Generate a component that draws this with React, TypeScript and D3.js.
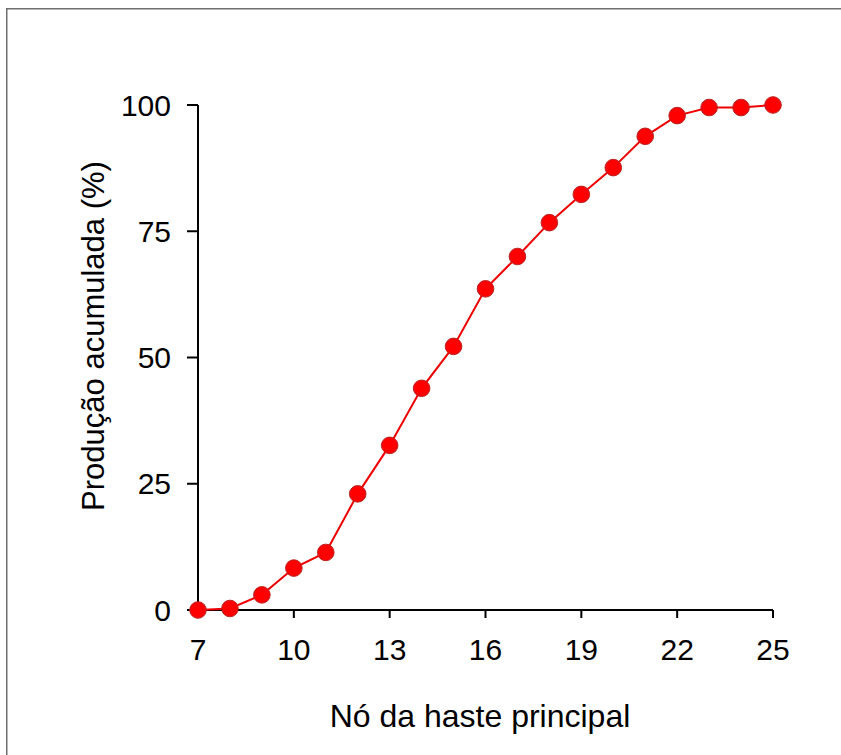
import React from "react";
import * as d3 from "d3";

const nodes = [7, 8, 9, 10, 11, 12, 13, 14, 15, 16, 17, 18, 19, 20, 21, 22, 23, 24, 25];
const accumulated = [0, 0.3, 3, 8.3, 11.4, 23, 32.6, 43.9, 52.2, 63.6, 70, 76.7, 82.3, 87.6, 93.8, 97.9, 99.5, 99.5, 100];
const xTicks = [7, 10, 13, 16, 19, 22, 25];
const yTicks = [0, 25, 50, 75, 100];
const xLabel = "Nó da haste principal";
const yLabel = "Produção acumulada (%)";

const W = 841;
const H = 755;
const FONT = "'Liberation Sans', Arial, Helvetica, sans-serif";

export default function App() {
  const x = d3.scaleLinear().domain([7, 25]).range([198, 773]);
  const y = d3.scaleLinear().domain([0, 100]).range([610, 105]);
  const pts = nodes.map((n, i) => [n, accumulated[i]] as [number, number]);
  const line = d3
    .line<[number, number]>()
    .x((d) => x(d[0]))
    .y((d) => y(d[1]));

  return (
    <div style={{ position: "fixed", left: 0, top: 0, width: W, height: H, background: "#fff", overflow: "hidden" }}>
      <svg width={W} height={H} style={{ display: "block" }}>
        <rect x={0} y={0} width={W} height={H} fill="#fff" />
        <path d={`M6.75,${H + 5} V8.75 H${W + 5}`} fill="none" stroke="#6e6e6e" strokeWidth={1.5} />
        {/* y axis */}
        <line x1={x(7)} x2={x(7)} y1={y(100)} y2={y(0)} stroke="#000" strokeWidth={2} />
        {yTicks.map((t) => (
          <g key={"y" + t}>
            <line x1={x(7) - 11} x2={x(7)} y1={y(t)} y2={y(t)} stroke="#000" strokeWidth={2} />
            <text x={171} y={y(t)} dy="0.35em" textAnchor="end" fontFamily={FONT} fontSize={30} fill="#000">
              {t}
            </text>
          </g>
        ))}
        {/* x axis */}
        <line x1={x(7)} x2={x(25)} y1={y(0)} y2={y(0)} stroke="#000" strokeWidth={2} />
        {xTicks.map((t) => (
          <g key={"x" + t}>
            <line x1={x(t)} x2={x(t)} y1={y(0)} y2={y(0) + 8} stroke="#000" strokeWidth={2} />
            <text x={x(t)} y={660} textAnchor="middle" fontFamily={FONT} fontSize={30} fill="#000">
              {t}
            </text>
          </g>
        ))}
        <text x={480} y={727} textAnchor="middle" fontFamily={FONT} fontSize={32} fill="#000">
          {xLabel}
        </text>
        <text
          transform={`translate(104,336) rotate(-90)`}
          textAnchor="middle"
          fontFamily={FONT}
          fontSize={31}
          fill="#000"
        >
          {yLabel}
        </text>
        <path d={line(pts) || ""} fill="none" stroke="#ee0000" strokeWidth={2} />
        {pts.map((d, i) => (
          <circle key={i} cx={x(d[0])} cy={y(d[1])} r={8.3} fill="#ff0000" stroke="#b22" strokeWidth={1} />
        ))}
      </svg>
    </div>
  );
}
